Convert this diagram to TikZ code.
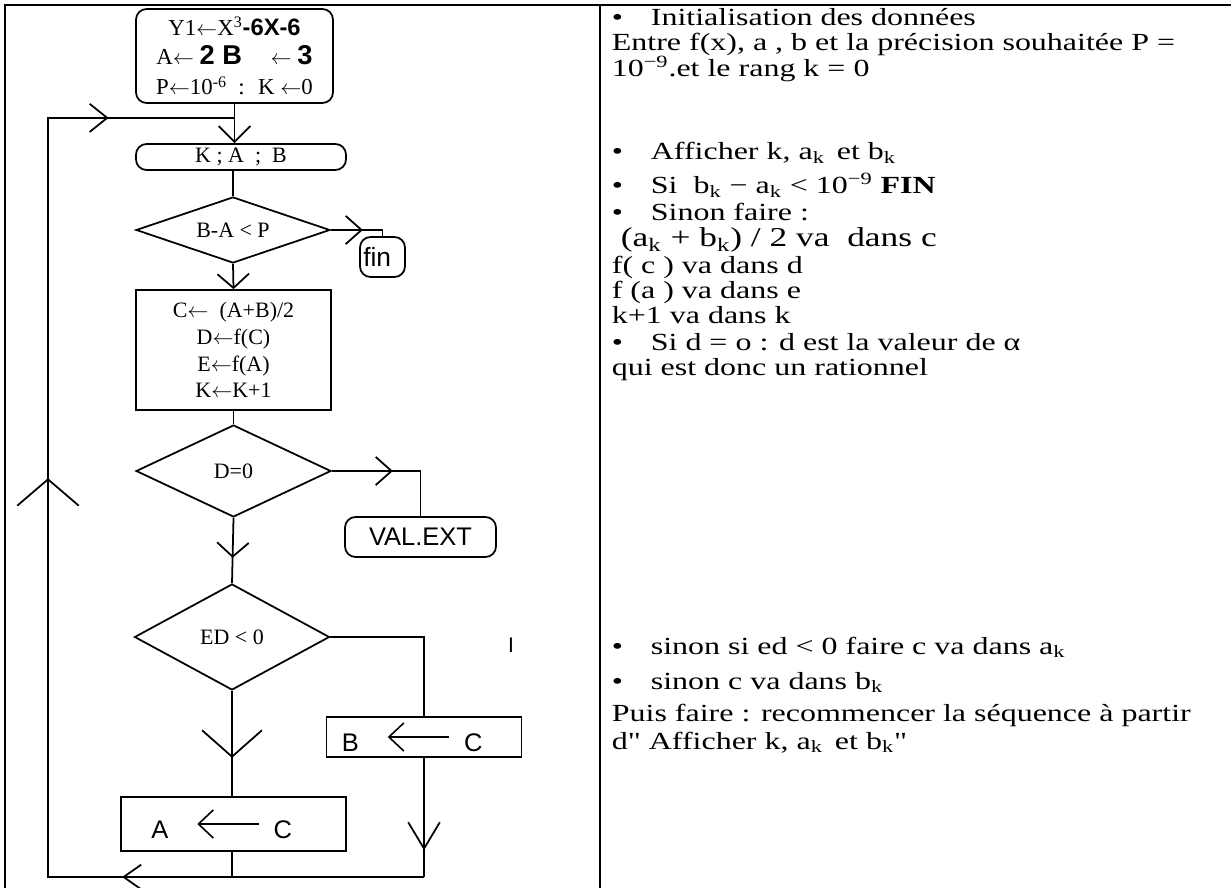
\documentclass[tikz,border=0pt]{standalone}
\usepackage{fontspec}
\setmainfont{Liberation Serif}
\setsansfont{Liberation Sans}
\newfontfamily\widefont[FakeStretch=1.3]{Liberation Serif}
\usetikzlibrary{arrows.meta, positioning, calc, shapes.geometric, decorations.markings}

\newcommand{\larr}{$\leftarrow$}
\newcommand{\bigleft}{\tikz[baseline=0pt]\draw[line width=0.9pt, {Straight Barb[length=8.5pt, width=16pt]}-] (0pt,8pt) -- (35pt,8pt);}

\begin{document}
\begin{tikzpicture}[
    x=0.02cm, y=-0.02cm,
    line width=1pt,
    frame/.style={line width=1.2pt},
    box/.style={draw, rectangle, align=center, inner sep=1pt, font=\fontsize{12.5}{15.3}\selectfont},
    rbox/.style={box, rounded corners=6pt},
    cond/.style={draw, diamond, inner sep=0pt, aspect=2, font=\fontsize{12.5}{14}\selectfont},
    sans/.style={font=\sffamily\fontsize{#1}{#1}\selectfont},
    midtip/.style 2 args={postaction={decorate}, decoration={markings, mark=at position #1 with {\arrow{Straight Barb[#2]}}}},
    rtext/.style={anchor=base west, inner sep=0pt, font=\widefont\fontsize{14}{17}\selectfont}
]
\useasboundingbox (0,0) rectangle (1231,888);

% --- Table frame ---
\draw[frame] (5,888) -- (5,5) -- (1231,5);
\draw[frame] (600,5) -- (600,888);

% --- Flowchart blocks ---
\node[rbox, minimum width=3.94cm, minimum height=1.88cm, font=\fontsize{13}{17}\selectfont] (init) at (234.5,56)
    {Y1\larr X\textsuperscript{3}{\sffamily\bfseries\fontsize{13.5}{13.5}\selectfont -6X-6}\\
     A\larr\ {\sffamily\bfseries\fontsize{15.5}{15.5}\selectfont 2 B} \quad \larr\ {\sffamily\bfseries\fontsize{15.5}{15.5}\selectfont 3}\\
     P\larr 10\textsuperscript{-6} \ : \ K \larr 0};
\node[rbox, minimum width=4.2cm, minimum height=0.52cm] (kab) at (241,157) {K ; A \ ; \ B};
\node[cond, minimum width=3.88cm, minimum height=1.32cm] (test) at (233,230) {B-A < P};
\node[rbox, sans=15, minimum width=0.9cm, minimum height=0.8cm] (fin) at (382.5,257) {fin\hspace{6pt}};
\node[box, minimum width=3.9cm, minimum height=2.4cm] (calc) at (233.5,350)
    {C\larr\ \ (A+B)/2\\ D\larr f(C)\\ E\larr f(A)\\ K\larr K+1};
\node[cond, minimum width=3.9cm, minimum height=1.84cm] (zero) at (233.5,471) {D=0};
\node[rbox, sans=14.5, minimum width=3.02cm, minimum height=0.8cm] (valext) at (420.5,537) {VAL.EXT};
\node[cond, minimum width=3.9cm, minimum height=2.12cm] (sign) at (232,637) {ED < 0};
\node[box, sans=14.5, minimum width=3.9cm, minimum height=0.8cm] (setb) at (424,737)
    {B\hspace{16pt}\bigleft\hspace{8pt}C\hspace{13.5pt}};
\node[box, sans=14.5, minimum width=4.5cm, minimum height=1.08cm] (seta) at (233.5,824)
    {A\hspace{16pt}\bigleft\hspace{8pt}C\hspace{13.5pt}};
\node[sans=12, inner sep=0pt] (stray) at (511,645) {I};

\coordinate (base) at (48,877);
\coordinate (join) at ($(init.south)+(0,14)$);
\coordinate (corner) at (setb.south |- base);

% --- Connectors ---
\draw[-{Straight Barb[length=9pt, width=18pt]}] (init.south) -- (kab.north -| init.south);
\draw (kab.south -| test.north) -- (test.north);
\draw[midtip={0.64cm}{length=9pt, width=16pt}] (test.east) -| (fin.north);
\draw[-{Straight Barb[length=8pt, width=18pt]}] (test.south) -- (calc.north);
\draw (calc.south) -- (zero.north);
\draw[midtip={1.22cm}{length=9pt, width=16pt}] (zero.east) -| (valext.north);
\draw[midtip={0.8cm}{length=8pt, width=18pt}] (zero.south) -- (sign.north);
\draw (sign.east) -| (setb.north);
\draw[midtip={1.34cm}{length=15pt, width=34pt}] (sign.south) -- (sign.south |- seta.north);
\draw (seta.south -| sign.south) -- (sign.south |- base);
\draw[midtip={1.86cm}{length=15pt, width=18pt}] (setb.south) -- (corner);

% --- Loop back ---
\draw[postaction={decorate}, decoration={markings,
        mark=at position 6.04cm with {\arrow{Straight Barb[length=10pt, width=14pt]}},
        mark=at position 15.5cm with {\arrow{Straight Barb[length=15pt, width=35pt]}},
        mark=at position 23.92cm with {\arrow{Straight Barb[length=10pt, width=16pt]}}}]
    (corner) -- (base) -- (base |- join) -- (join);

% --- Explanations ---
\foreach \y in {26,160,194,221,351,654,689}
    \node[rtext] (dot\y) at (611,\y) {•};
\node[rtext] (t1)  at (650,26)  {Initialisation des données};
\node[rtext] (t2)  at (611,51)  {Entre f(x), a , b et la précision souhaitée P =};
\node[rtext] (t3)  at (611,77)  {10\textsuperscript{−9}.et le rang k = 0};
\node[rtext] (t4)  at (650,160) {Afficher k, a\textsubscript{k} \,et b\textsubscript{k}};
\node[rtext] (t5)  at (650,194) {Si \ b\textsubscript{k} − a\textsubscript{k} < 10\textsuperscript{−9} \textbf{FIN}};
\node[rtext] (t6)  at (650,221) {Sinon faire :};
\node[rtext, font=\widefont\fontsize{15.5}{17}\selectfont] (t7) at (620,247) {(a\textsubscript{k} + b\textsubscript{k}) / 2 va \ dans c};
\node[rtext] (t8)  at (611,274) {f( c ) va dans d};
\node[rtext] (t9)  at (611,299) {f (a ) va dans e};
\node[rtext] (t10) at (611,324) {k+1 va dans k};
\node[rtext] (t11) at (650,351) {Si d = o : d est la valeur de α};
\node[rtext] (t12) at (611,376) {qui est donc un rationnel};
\node[rtext] (t13) at (650,654) {sinon si ed < 0 faire c va dans a\textsubscript{k}};
\node[rtext] (t14) at (650,689) {sinon c va dans b\textsubscript{k}};
\node[rtext] (t15) at (611,721) {Puis faire : recommencer la séquence à partir};
\node[rtext] (t16) at (611,749) {d" Afficher k, a\textsubscript{k} \,et b\textsubscript{k}"};

\end{tikzpicture}
\end{document}
